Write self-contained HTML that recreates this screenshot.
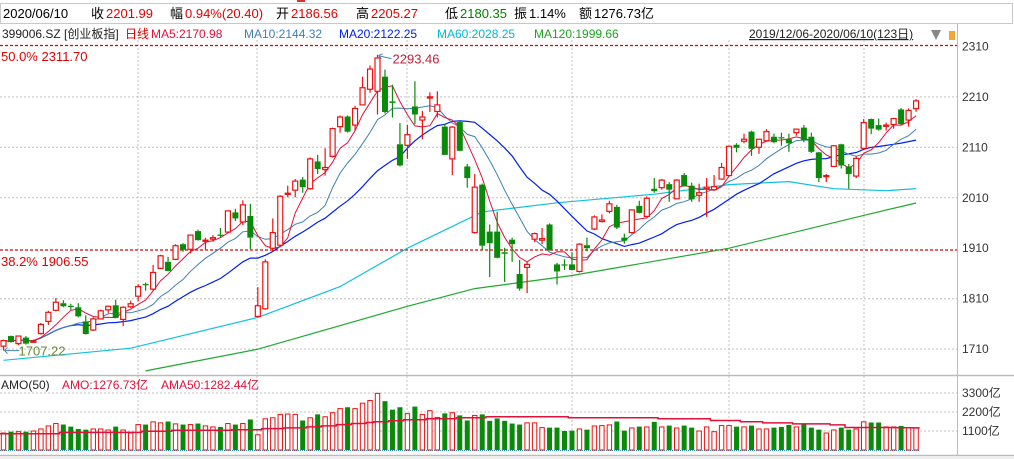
<!DOCTYPE html>
<html><head><meta charset="utf-8">
<style>
html,body{margin:0;padding:0;background:#fff;}
svg{display:block;font-family:"Liberation Sans","Noto Sans CJK SC",sans-serif;}
</style></head>
<body>
<svg id="chart" width="1014" height="459" viewBox="0 0 1014 459" xmlns="http://www.w3.org/2000/svg">
  <rect x="0" y="0" width="1014" height="459" fill="#fff"/>
  <!-- header box -->
  <rect x="0.5" y="3.5" width="1012" height="20" fill="#fff" stroke="#c8c8c8"/>
  <rect x="297" y="0" width="8" height="2" fill="#e03030"/>
  <g font-size="13">
    <text x="3" y="18" fill="#000">2020/06/10</text>
    <text x="91" y="18" fill="#000">收</text><text x="106" y="18" fill="#e00000">2201.99</text>
    <text x="170" y="18" fill="#000">幅</text><text x="185" y="18" fill="#e00000">0.94%(20.40)</text>
    <text x="276" y="18" fill="#000">开</text><text x="291" y="18" fill="#e00000">2186.56</text>
    <text x="356" y="18" fill="#000">高</text><text x="371" y="18" fill="#e00000">2205.27</text>
    <text x="445" y="18" fill="#000">低</text><text x="460" y="18" fill="#008000">2180.35</text>
    <text x="514" y="18" fill="#000">振</text><text x="529" y="18" fill="#000">1.14%</text>
    <text x="579" y="18" fill="#000">额</text><text x="594" y="18" fill="#000">1276.73亿</text>
  </g>
  <g font-size="12">
    <text x="2" y="38" fill="#222">399006.SZ [创业板指]</text>
    <text x="125" y="38" fill="#e00000">日线</text>
    <text x="151" y="38" fill="#e0103a">MA5:2170.98</text>
    <text x="244" y="38" fill="#3f7fb5">MA10:2144.32</text>
    <text x="339" y="38" fill="#0020f0">MA20:2122.25</text>
    <text x="437" y="38" fill="#00b8d8">MA60:2028.25</text>
    <text x="534" y="38" fill="#20a020">MA120:1999.66</text>
  </g>
  <text x="749" y="38" font-size="12" fill="#222" text-decoration="underline">2019/12/06-2020/06/10(123日)</text>
  <path d="M931 30 L941 30 L936 40 Z" fill="#888"/>
  <rect x="949" y="31" width="6" height="9" fill="#f0a830"/>

  <g id="grid"></g>
  <g id="marks"></g>
  <g id="axis" font-size="12" fill="#333"></g>
  <g id="vol"></g>

  <text x="1" y="61" font-size="13" fill="#e00000">50.0%  2311.70</text>
  <text x="1" y="266" font-size="13" fill="#e00000">38.2%  1906.55</text>

  <g font-size="12">
    <text x="1" y="389" fill="#222">AMO(50)</text>
    <text x="62" y="389" fill="#e0103a">AMO:1276.73亿</text>
    <text x="161" y="389" fill="#e0103a">AMA50:1282.44亿</text>
  </g>
</svg>
<script>
const opens=[1716,1736,1721,1733,1724,1741,1765,1787,1801,1796,1793,1765,1748,1770,1788,1797,1769,1794,1815,1839,1829,1870,1883,1888,1918,1908,1944,1924,1928,1937,1942,1981,1962,1974,1775,1790,1910,1916,2017,2025,2046,2028,2082,2066,2092,2151,2171,2154,2194,2225,2221,2250,2201,2116,2114,2191,2164,2208,2181,2151,2087,2160,2072,1941,2036,1943,1943,1902,1927,1859,1872,1928,1926,1957,1878,1878,1878,1864,1916,1948,1963,1983,1992,1931,1941,1994,1973,2028,2030,2037,2008,2055,2034,2015,2028,2026,2047,2054,2115,2122,2141,2110,2123,2131,2130,2126,2139,2149,2131,2100,2052,2072,2116,2072,2053,2108,2166,2154,2152,2155,2185,2164,2186.56];
const closes=[1727,1724,1736,1721,1726,1759,1783,1803,1795,1794,1775,1740,1770,1786,1795,1772,1793,1800,1834,1837,1862,1895,1865,1915,1907,1936,1926,1926,1931,1935,1984,1969,1996,1931,1796,1883,1941,2013,2019,2043,2031,2087,2067,2070,2147,2170,2141,2187,2228,2265,2287,2180,2198,2074,2135,2175,2170,2210,2194,2095,2150,2103,2049,2031,1915,1920,1891,1899,1918,1830,1878,1939,1929,1906,1864,1876,1867,1918,1910,1972,1966,1998,1951,1925,1986,1980,2009,2023,2045,2026,2045,2033,2007,2020,2031,2032,2070,2112,2109,2126,2107,2126,2141,2120,2128,2118,2146,2124,2101,2049,2054,2113,2074,2057,2088,2159,2147,2145,2154,2167,2156,2183,2201.99];
const highs=[1729,1737,1737,1736,1729,1762,1786,1811,1807,1800,1801,1777,1773,1788,1796,1808,1795,1806,1839,1842,1877,1897,1893,1918,1920,1937,1947,1931,1936,1950,1985,1988,2005,1998,1833,1888,1969,2015,2034,2047,2051,2090,2095,2108,2149,2173,2173,2192,2250,2272,2293.46,2264,2234,2158,2154,2241,2182,2219,2221,2156,2152,2162,2077,2057,2038,1957,1982,1911,1931,1887,1883,1941,1950,1959,1881,1888,1902,1920,1931,1975,1977,2004,1996,1939,1987,2004,2013,2049,2047,2041,2047,2059,2040,2038,2049,2055,2079,2113,2118,2137,2143,2127,2146,2137,2139,2137,2147,2154,2139,2101,2057,2114,2117,2077,2092,2166,2167,2167,2159,2168,2188,2187,2205.27];
const lows=[1707.22,1723,1718,1719,1723,1739,1758,1785,1793,1788,1773,1739,1746,1769,1782,1771,1756,1792,1805,1826,1826,1869,1864,1887,1903,1900,1925,1908,1923,1931,1941,1964,1956,1908,1773,1788,1904,1915,2011,2011,2020,2026,2057,2054,2090,2139,2139,2143,2193,2218,2175,2177,2169,2072,2087,2156,2126,2180,2169,2095,2055,2102,2030,1939,1906,1853,1890,1843,1883,1826,1821,1922,1918,1905,1838,1867,1866,1862,1904,1946,1961,1979,1948,1919,1939,1979,1972,2020,2026,2002,2007,2032,2002,2002,1972,2024,2046,2053,2100,2118,2093,2097,2121,2118,2113,2101,2133,2120,2099,2041,2041,2071,2068,2028,2049,2107,2136,2143,2143,2147,2154,2151,2180.35];
const amo=[982,1061,1061,1061,1100,1218,1394,1532,1473,1355,1218,1178,1218,1218,1159,1355,1159,982,1473,1473,1630,1571,1650,1512,1473,1473,1532,1394,1335,1335,1532,1473,1532,1768,884,1807,1866,2062,2082,2062,1709,1866,2062,1925,2160,2396,2475,2396,2710,2867,3280,2828,2337,2475,2102,2514,2062,2278,1886,2121,2160,2003,1709,2003,2062,1689,1826,1689,1532,1473,1571,1571,1296,1296,1296,1100,1119,1218,1178,1394,1414,1453,1650,1119,1276,1355,1335,1630,1335,1414,1276,1414,1296,1100,1335,1060,1414,1414,1355,1335,1414,1218,1218,1296,1335,1453,1335,1532,1296,1178,982,1159,1296,1178,1218,1630,1591,1591,1335,1335,1394,1276,1276.73];
const ama50=[943,943,943,943,943,943,943,943,1021,1021,1021,1021,1021,1021,1021,1021,1021,1021,1021,1080,1080,1080,1080,1139,1139,1139,1139,1139,1139,1139,1139,1178,1178,1178,1178,1237,1237,1237,1277,1277,1277,1335,1335,1394,1394,1473,1473,1532,1532,1591,1630,1630,1689,1689,1748,1748,1748,1807,1807,1807,1807,1866,1866,1866,1866,1925,1925,1925,1925,1925,1925,1925,1925,1925,1925,1925,1866,1866,1866,1866,1866,1866,1866,1866,1866,1866,1866,1866,1807,1807,1807,1807,1807,1807,1807,1709,1709,1709,1709,1630,1630,1630,1571,1571,1571,1571,1512,1512,1512,1512,1512,1453,1453,1300,1300,1300,1300,1300,1300,1295,1290,1286,1282.44];
const ma60Idx=[0,17,34,45,54,64,74,87,97,105,111,118,122];
const ma60Val=[1688,1712,1773,1834,1910,1982,2000,2017,2036,2042,2028,2024,2028.25];
const ma120Idx=[19,34,54,63,76,97,115,122];
const ma120Val=[1667,1710,1795,1830,1856,1910,1975,1999.66];
const priceTicks=[2310,2210,2110,2010,1910,1810,1710];
const volTicks=[3300,2200,1100];

const NS="http://www.w3.org/2000/svg";
function mk(tag,attrs,parent){const e=document.createElementNS(NS,tag);for(const k in attrs)e.setAttribute(k,attrs[k]);parent.appendChild(e);return e;}
const X=i=>3.5+7.48*i;
const Y=p=>45.5+(2311.7-p)*0.5047;
const VY=v=>450-v*0.01727;
const svg=document.getElementById('chart');
const grid=document.getElementById('grid');
const marks=document.getElementById('marks');
const axis=document.getElementById('axis');
const vol=document.getElementById('vol');

// grid
priceTicks.forEach((t,k)=>{
  if(t===2310||t===1910)return;
  const l=mk('line',{x1:0,x2:957,y1:Y(t),y2:Y(t),stroke:'#c0c0c0','stroke-dasharray':'2,2'},grid);
  
  
});
[138,257,407,572,729,864].forEach(x=>{
  const l=mk('line',{x1:x,x2:x,y1:40,y2:450,stroke:'#c0c0c0','stroke-dasharray':'2,2'},grid);
  
  
});
volTicks.forEach(t=>{
  const l=mk('line',{x1:0,x2:957,y1:VY(t),y2:VY(t),stroke:'#c0c0c0','stroke-dasharray':'2,2'},grid);
  
  
});
[2311.7,1906.55].forEach(p=>{
  const l=mk('line',{x1:0,x2:957,y1:Y(p),y2:Y(p),stroke:'#e00000','stroke-width':1.3,'stroke-dasharray':'3,2'},grid);
  
  
});
mk('line',{x1:957.5,x2:957.5,y1:24,y2:456,stroke:'#bbb'},grid);
mk('line',{x1:0,x2:1014,y1:375.5,y2:375.5,stroke:'#bbb','stroke-width':1.5},grid);
mk('line',{x1:0,x2:1014,y1:455.5,y2:455.5,stroke:'#bbb','stroke-width':1.5},grid);
mk('rect',{x:0,y:456,width:1014,height:3,fill:'#eee'},grid);
mk('line',{x1:0,x2:920,y1:450.5,y2:450.5,stroke:'#2a8ab0','stroke-dasharray':'1,1'},grid);

// axis labels
priceTicks.forEach(t=>{
  const tx=mk('text',{x:962,y:Y(t)+4},axis);
  tx.textContent=t;
  
  
});
volTicks.forEach(t=>{
  const tx=mk('text',{x:962,y:VY(t)+4,'font-size':12,fill:'#333'},axis);
  tx.textContent=t+'亿';
  
  
});

// moving averages
function ma(n){return closes.map((c,i)=>{const s=Math.max(0,i-n+1);let sum=0;for(let j=s;j<=i;j++)sum+=closes[j];return sum/(i-s+1);});}
function line(vals,color,name,w){
  const pts=vals.map((v,i)=>X(i).toFixed(1)+','+Y(v).toFixed(1)).join(' ');
  const pl=mk('polyline',{points:pts,fill:'none',stroke:color,'stroke-width':w||1},marks);
  
  
}
function sparse(idx,vals,color,name){
  const pts=idx.map((i,k)=>X(i).toFixed(1)+','+Y(vals[k]).toFixed(1)).join(' ');
  const pl=mk('polyline',{points:pts,fill:'none',stroke:color,'stroke-width':1.2},marks);
  
  
}
sparse(ma120Idx,ma120Val,'#20a830','ma120-line');
sparse(ma60Idx,ma60Val,'#10c0e0','ma60-line');
line(ma(20),'#0020f0','ma20-line',1.2);
line(ma(10),'#4080b0','ma10-line',1);
line(ma(5),'#e0103a','ma5-line',1);

// candles
closes.forEach((c,i)=>{
  const o=opens[i],up=c>=o,x=X(i);
  const col=up?'#ee1111':'#0a8a0a';
  const g=mk('g',{},marks);
  
  
  const top=Y(Math.max(o,c)),bot=Y(Math.min(o,c));
  mk('line',{x1:x,x2:x,y1:Y(highs[i]),y2:top,stroke:col,'stroke-width':1.2},g);
  mk('line',{x1:x,x2:x,y1:bot,y2:Y(lows[i]),stroke:col,'stroke-width':1.2},g);
  const h=Math.max(1.2,bot-top);
  if(up) mk('rect',{x:x-2.5,y:top,width:5,height:h,fill:'#fff',stroke:col,'stroke-width':1.2},g);
  else mk('rect',{x:x-3,y:top,width:6,height:h,fill:col},g);
  // volume
  const vy=VY(amo[i]);
  const b=up?mk('rect',{x:x-2.2,y:vy,width:4.4,height:450-vy,fill:'#fff',stroke:'#ee1111','stroke-width':1},vol)
            :mk('rect',{x:x-2.5,y:vy,width:5,height:450-vy,fill:'#0a8a0a'},vol);
  
  
});
// AMA50 step line
let d='';
ama50.forEach((v,i)=>{d+=(i?'L':'M')+(X(i)-3.7).toFixed(1)+' '+VY(v).toFixed(1)+' L'+(X(i)+3.7).toFixed(1)+' '+VY(v).toFixed(1)+' ';});
const am=mk('path',{d:d,fill:'none',stroke:'#e0103a','stroke-width':1.5},vol);



// high/low annotations
const hiI=50,loI=0;
const ha=mk('path',{d:'M'+(X(hiI)+1)+' '+(Y(highs[hiI])+1)+' L'+(X(hiI)+14)+' '+(Y(highs[hiI])+4)+' M'+(X(hiI)+1)+' '+(Y(highs[hiI])+1)+' l4 -2 M'+(X(hiI)+1)+' '+(Y(highs[hiI])+1)+' l3 3',stroke:'#4a7fb0',fill:'none'},marks);


const ht=mk('text',{x:X(hiI)+15,y:Y(highs[hiI])+9,'font-size':13,fill:'#c0203a'},marks);
ht.textContent=highs[hiI].toFixed(2);


const la=mk('path',{d:'M'+(X(loI)+1)+' '+Y(lows[loI])+' L'+(X(loI)+16)+' '+Y(lows[loI])+' M'+(X(loI)+1)+' '+Y(lows[loI])+' l3 -3 M'+(X(loI)+1)+' '+Y(lows[loI])+' l3 3',stroke:'#4a7fb0',fill:'none'},marks);


const lt=mk('text',{x:X(loI)+15,y:Y(lows[loI])+5,'font-size':13,fill:'#6a8a30'},marks);
lt.textContent=lows[loI].toFixed(2);


</script>
</body></html>
